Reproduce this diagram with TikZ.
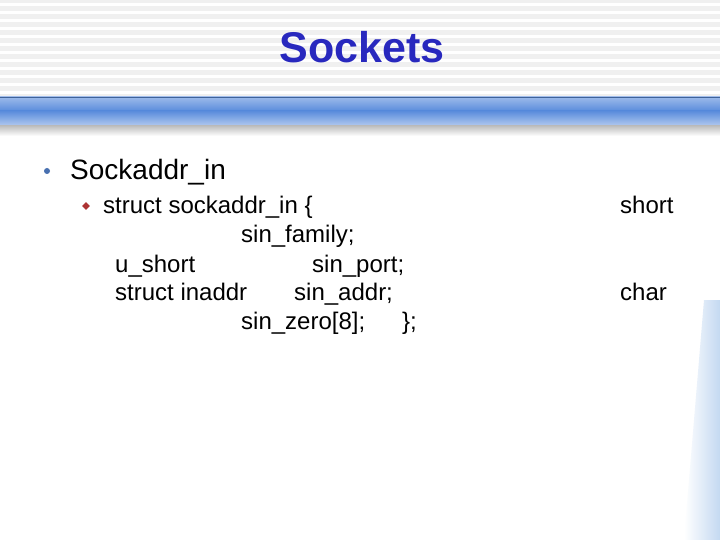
\documentclass[tikz,border=0pt]{standalone}
\usepackage{fontspec}
\setmainfont{Liberation Sans}
\usetikzlibrary{shapes.geometric}
\definecolor{titleblue}{RGB}{40,40,190}
\definecolor{barblue}{RGB}{90,140,220}
\definecolor{edgeblue}{RGB}{170,200,235}
\tikzset{
  body/.style={anchor=base west,inner sep=0pt,font=\fontsize{24}{28}\selectfont},
  lvl1/.style={anchor=base west,inner sep=0pt,font=\fontsize{28}{32}\selectfont},
}
\begin{document}
\begin{tikzpicture}[x=1pt,y=-1pt]
\useasboundingbox (0,0) rectangle (720,540);
\fill[white] (0,0) rectangle (720,540);
% stripes
\fill[gray!12] (0,0) rectangle (720,96);
\foreach \y in {3,11,...,91} \fill[white] (0,\y) rectangle (720,\y+3);
% shadow + bar
\shade[top color=gray!60, bottom color=white] (0,124) rectangle (720,136);
\shade[top color=barblue!60, bottom color=barblue] (0,97) rectangle (720,111);
\shade[top color=barblue, bottom color=barblue!50] (0,111) rectangle (720,125);
\draw[barblue!70!black,line width=0.6pt] (0,97) -- (720,97);
% right edge gradient
\shade[left color=white, right color=edgeblue!70] (704,300) -- (720,300) -- (720,540) -- (684,540) -- cycle;
% title
\node[anchor=base,inner sep=0pt,font=\fontsize{43}{48}\bfseries\selectfont,text=titleblue] (title) at (362,63) {Sockets};
% level 1
\node[circle,fill=barblue!80!black,inner sep=0pt,minimum size=6pt] (b1) at (47,171) {};
\node[lvl1] (l1) at (70,180) {Sockaddr\_in};
% level 2
\node[diamond,fill=red!60!black!80,inner sep=0pt,minimum size=8pt] (b2) at (86,206) {};
\node[body] (t1) at (103,214) {struct sockaddr\_in \{};
\node[body] (t1r) at (620,214) {short};
\node[body] (t2) at (241,243) {sin\_family;};
\node[body] (t3a) at (115,272) {u\_short};
\node[body] (t3b) at (312,272) {sin\_port;};
\node[body] (t4a) at (115,300) {struct inaddr};
\node[body] (t4b) at (294,300) {sin\_addr;};
\node[body] (t4r) at (620,300) {char};
\node[body] (t5a) at (241,329) {sin\_zero[8];};
\node[body] (t5b) at (402,329) {\};};
\end{tikzpicture}
\end{document}
